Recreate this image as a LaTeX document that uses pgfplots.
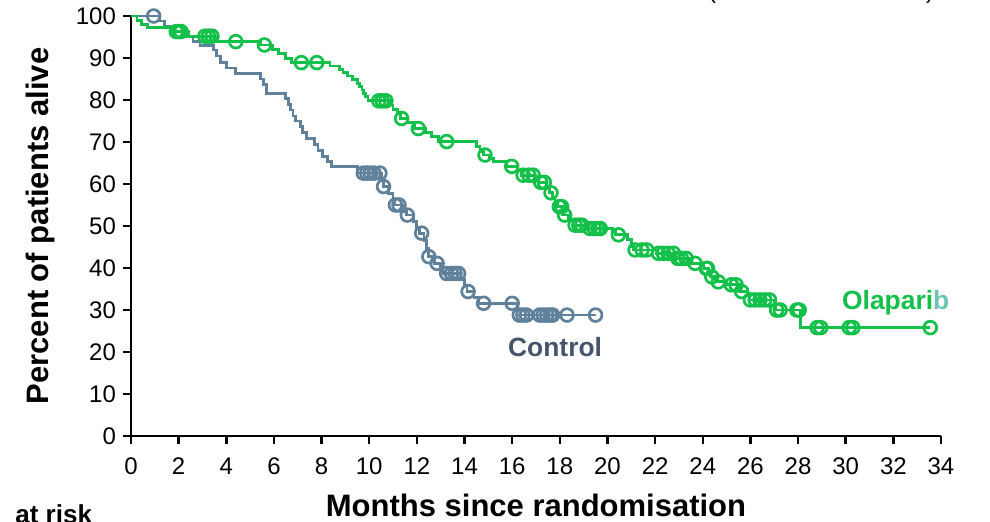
\documentclass[border=0pt]{standalone}
\usepackage{fontspec}
\setmainfont{Liberation Sans}
\usepackage{pgfplots}
\pgfplotsset{compat=1.18}
\definecolor{olagreen}{HTML}{12C04A}
\definecolor{ctrlline}{HTML}{5F819B}
\definecolor{ctrltext}{HTML}{44546A}
\definecolor{tealb}{HTML}{6CC4B4}
\begin{document}
\begin{tikzpicture}
\useasboundingbox (0,0) rectangle (495pt,260.5pt);
\begin{axis}[
  at={(65.5pt,42.5pt)}, anchor=south west,
  scale only axis, width=405pt, height=210pt,
  xmin=0, xmax=34, ymin=0, ymax=100,
  axis lines=left, axis line style={line width=1.25pt, -},
  xtick={0,2,...,34}, ytick={0,10,...,100},
  tick align=outside, major tick length=4pt,
  tick style={line width=1.25pt, black},
  /pgf/number format/assume math mode=true,
  ticklabel style={font=\fontsize{12}{14}\selectfont},
  xticklabel style={yshift=-3.5pt},
  xlabel={Months since randomisation},
  ylabel={Percent of patients alive},
  label style={font=\bfseries\fontsize{15.5}{18}\selectfont},
  xlabel style={at={(axis description cs:0.5,-0.1655)}, anchor=center},
  ylabel style={at={(axis description cs:-0.1123,0.5)}, anchor=center},
  clip=false,
]
% control arm
\addplot[const plot, color=ctrlline, line width=1.4pt] coordinates {
 (0,100) (1.2,98.8) (1.4,97.6) (1.8,96.4) (2.3,95.2) (2.6,94.0) (2.9,93.0)
 (3.45,91.9) (3.6,90.5) (3.75,89.0) (4.0,87.6) (4.4,86.3) (5.45,85.0)
 (5.55,83.7) (5.7,81.6) (6.5,80.3) (6.6,79.0) (6.7,77.6) (6.8,76.2)
 (6.9,75.0) (7.1,73.7) (7.2,72.3) (7.35,70.8) (7.7,69.4) (7.85,68.0)
 (8.05,66.6) (8.25,65.3) (8.4,64.2) (9.5,62.6) (10.5,61.0) (10.6,59.4)
 (10.8,57.7) (11.0,56.2) (11.05,55.0) (11.45,53.5) (11.55,52.6)
 (11.85,51.0) (12.0,49.6) (12.1,48.3) (12.3,46.5) (12.4,44.6) (12.5,42.7)
 (12.75,41.1) (13.0,39.8) (13.1,38.7) (13.85,37.2) (14.0,35.8) (14.1,34.4)
 (14.4,33.0) (14.6,31.6) (16.2,28.8) (19.5,28.8)};
\addplot[only marks, mark=o, mark size=3.2pt, color=ctrlline,
  mark options={line width=1.35pt}] coordinates {
 (0.95,100) (9.75,62.6) (9.9,62.6) (10.05,62.6) (10.2,62.6) (10.45,62.6)
 (10.6,59.4) (11.1,55.0) (11.25,55.0) (11.6,52.6) (12.2,48.3) (12.5,42.7)
 (12.85,41.1) (13.25,38.7) (13.45,38.7) (13.6,38.7) (13.75,38.7)
 (14.15,34.4) (14.8,31.6) (16.0,31.6) (16.3,28.8) (16.45,28.8) (16.6,28.8)
 (17.15,28.8) (17.3,28.8) (17.45,28.8) (17.6,28.8) (17.7,28.8) (18.3,28.8)
 (19.5,28.8)};
% olaparib arm
\addplot[const plot, color=olagreen, line width=1.4pt] coordinates {
 (0,100) (0.25,99.0) (0.45,98.0) (0.7,97.2) (1.8,96.3) (2.4,95.2)
 (3.6,93.9) (5.45,93.1) (5.95,92.1) (6.2,91.0) (6.5,89.8) (6.75,88.9)
 (8.35,88.1) (8.75,87.3) (8.9,86.5) (9.1,85.7) (9.3,84.9) (9.5,84.0)
 (9.6,83.2) (9.7,82.4) (9.75,81.6) (9.85,80.8) (9.95,79.8) (10.9,78.8)
 (11.0,77.8) (11.2,76.7) (11.3,75.6) (11.6,74.6) (11.9,73.2) (12.35,72.3)
 (12.6,71.3) (12.9,70.1) (14.5,68.9) (14.65,67.7) (14.8,66.9) (15.05,66.1)
 (15.2,65.3) (15.75,64.2) (16.2,63.1) (16.4,62.1) (17.0,61.3) (17.1,60.4)
 (17.45,59.2) (17.55,57.9) (17.7,56.8) (17.8,55.7) (17.9,54.6) (18.1,52.6)
 (18.35,51.4) (18.55,50.2) (19.1,49.4) (20.2,48.6) (20.35,47.9)
 (20.85,46.7) (21.0,45.1) (21.1,44.3) (22.05,43.5) (22.85,42.3)
 (23.55,41.1) (24.05,39.9) (24.25,38.9) (24.3,37.9) (24.55,36.7)
 (25.0,36.0) (25.55,34.4) (25.9,33.4) (25.95,32.4) (27.0,31.2)
 (27.05,30.0) (28.1,25.8) (33.55,25.8)};
\addplot[only marks, mark=o, mark size=3.2pt, color=olagreen,
  mark options={line width=1.35pt}] coordinates {
 (1.9,96.3) (2.0,96.3) (2.1,96.3) (3.1,95.2) (3.25,95.2) (3.4,95.2)
 (4.4,93.9) (5.6,93.1) (7.15,88.9) (7.8,88.9) (10.4,79.8) (10.55,79.8)
 (10.7,79.8) (11.36,75.6) (12.06,73.2) (13.25,70.1) (14.86,66.9)
 (15.98,64.2) (16.46,62.1) (16.7,62.1) (16.88,62.1) (17.2,60.4)
 (17.35,60.4) (17.63,57.9) (17.98,54.6) (18.08,54.6) (18.2,52.6)
 (18.64,50.2) (18.8,50.2) (18.92,50.2) (19.27,49.4) (19.45,49.4)
 (19.6,49.4) (19.7,49.4) (20.46,47.9) (21.16,44.3) (21.45,44.3)
 (21.65,44.3) (22.14,43.5) (22.35,43.5) (22.55,43.5) (22.77,43.5)
 (22.95,42.3) (23.1,42.3) (23.3,42.3) (23.68,41.1) (24.15,39.9)
 (24.2,39.9) (24.38,37.9) (24.65,36.7) (25.2,36.0) (25.4,36.0)
 (25.63,34.4) (26.0,32.4) (26.2,32.4) (26.4,32.4) (26.6,32.4)
 (26.8,32.4) (27.1,30.0) (27.25,30.0) (27.95,30.0) (28.05,30.0)
 (28.8,25.8) (28.95,25.8) (30.15,25.8) (30.3,25.8) (33.55,25.8)};
\node[font=\bfseries\fontsize{13.2}{15}\selectfont, text=ctrltext]
  at (axis cs:17.8,21.2) {Control};
\node[font=\bfseries\fontsize{13.2}{15}\selectfont, text=olagreen]
  at (axis cs:32.1,31.7) {Olapari\textcolor{tealb}{b}};
\end{axis}
\node[anchor=base west, inner sep=0pt, font=\bfseries\fontsize{13}{15}\selectfont]
  at (7.5pt,-1.3pt) {at risk};
\node[anchor=base, inner sep=0pt, font=\fontsize{12}{14}\selectfont] at (356pt,261.5pt) {(};
\node[anchor=base, inner sep=0pt, font=\fontsize{12}{14}\selectfont] at (465pt,261.5pt) {)};
\end{tikzpicture}
\end{document}
